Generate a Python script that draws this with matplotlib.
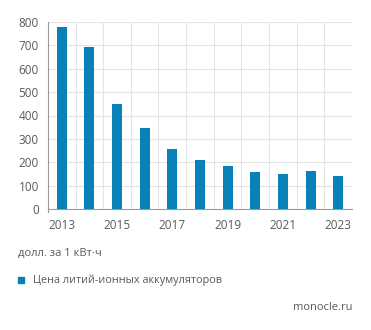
import numpy as np
import matplotlib
matplotlib.use("Agg")
from matplotlib import pyplot as plt

# data ---------------------------------------------------------------
years = [2013, 2014, 2015, 2016, 2017, 2018, 2019, 2020, 2021, 2022, 2023]
prices = [780, 692, 448, 345, 258, 211, 183, 160, 150, 161, 139]
tick_labels = ["2013", "2015", "2017", "2019", "2021", "2023"]
unit_label = "долл. за 1 кВт·ч"
legend_label = "Цена литий-ионных аккумуляторов"
source = "monocle.ru"

BAR_COLOR = "#0a80b9"
TEXT_COLOR = "#5a5a5a"
GRID_COLOR = "#e4e4e4"
AXIS_COLOR = "#9a9a9a"

plt.rcParams['font.family'] = ['Open Sans', 'DejaVu Sans']

fig = plt.figure(figsize=(3.71, 3.30), dpi=100)
ax = fig.add_axes([0.129, 0.367, 0.820, 0.566])

x = np.arange(len(years))
ax.bar(x, prices, width=0.36, color=BAR_COLOR, zorder=3)

ax.set_xlim(-0.5, len(years) - 0.5)
ax.set_ylim(0, 800)
ax.set_yticks(range(0, 801, 100))

# grid: vertical lines at band edges, horizontal at y ticks
for xb in np.arange(-0.5, len(years), 1.0)[1:]:
    ax.axvline(xb, color=GRID_COLOR, lw=0.8, zorder=1)
for yv in range(100, 801, 100):
    ax.axhline(yv, color=GRID_COLOR, lw=0.8, zorder=1)

ax.set_xticks(x[::2])
ax.set_xticklabels(tick_labels)
ax.tick_params(axis='x', length=0, pad=7, labelsize=8.5, colors=TEXT_COLOR)
ax.tick_params(axis='y', length=0, pad=6.5, labelsize=8.5, colors=TEXT_COLOR)

for s in ['top', 'right']:
    ax.spines[s].set_visible(False)
ax.spines['left'].set_color(AXIS_COLOR)
ax.spines['bottom'].set_color(AXIS_COLOR)
ax.spines['left'].set_linewidth(0.8)
ax.spines['bottom'].set_linewidth(0.8)
# small tick below the corner
ax.plot([-0.5, -0.5], [0, -12], color=AXIS_COLOR, lw=0.8, clip_on=False, zorder=4)

fig.text(18 / 371, 1 - 253 / 330, unit_label, fontsize=8, color=TEXT_COLOR, va='center')
fig.patches.append(plt.Rectangle((18 / 371, 1 - 283 / 330), 6 / 371, 6 / 330,
                                 transform=fig.transFigure, color=BAR_COLOR))
fig.text(33 / 371, 1 - 280 / 330, legend_label, fontsize=7.8, color=TEXT_COLOR, va='center')
fig.text(352 / 371, 1 - 308 / 330, source, fontsize=8, color=TEXT_COLOR,
         va='center', ha='right')

fig.savefig("out.png", dpi=100)
